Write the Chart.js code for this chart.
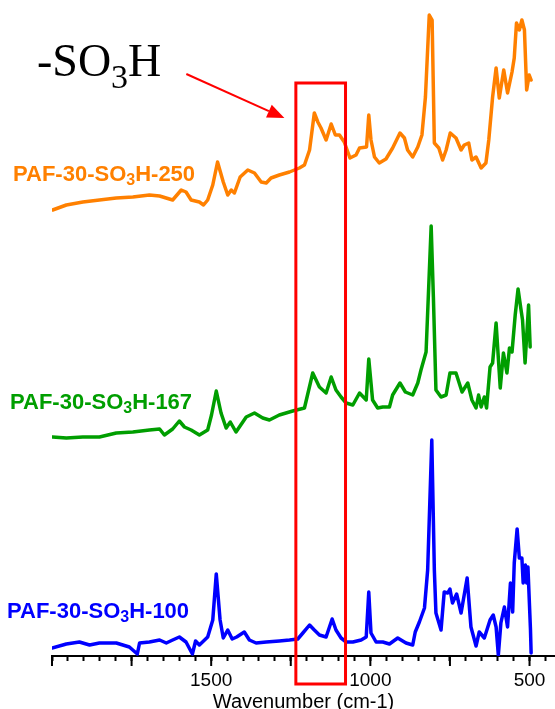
<!DOCTYPE html>
<html>
<head>
<meta charset="utf-8">
<script src="https://cdn.jsdelivr.net/npm/chart.js"></script>
<style>
  html, body { margin: 0; padding: 0; background: #fff; }
</style>
</head>
<body>
<canvas id="irChart" width="555" height="709"></canvas>
<script>
// wavenumber (cm-1) and offset absorbance (a.u.) for each sample
const wn250 = [1998,1955,1903,1851,1798,1746,1694,1662,1621,1594,1579,1563,1537,1524,1511,1495,1480,1462,1448,1437,1427,1409,1385,1364,1343,1327,1312,1286,1254,1223,1207,1191,1176,1165,1155,1139,1123,1110,1097,1082,1064,1045,1034,1012,1005,998,987,972,951,930,907,893,883,867,851,838,827,815,806,799,785,773,762,749,731,715,705,691,681,668,652,637,628,616,605,595,581,569,555,548,541,532,524,516,509,501,495];
const ab250 = [446,451,454,456,458,459,461,460,456,466,464,456,454,451,456,471,494,474,461,466,463,479,486,483,474,473,478,481,484,488,491,506,543,534,528,516,532,521,521,514,498,501,508,509,541,516,499,493,497,508,523,518,506,499,509,521,559,641,636,513,508,496,506,523,518,506,511,513,496,499,488,493,516,559,588,558,586,563,584,598,633,626,636,626,566,581,576];

const wn167 = [1998,1955,1903,1851,1798,1746,1694,1662,1647,1621,1600,1584,1563,1537,1511,1499,1484,1469,1453,1440,1422,1390,1364,1338,1317,1286,1244,1207,1181,1160,1139,1123,1108,1092,1076,1055,1034,1013,1005,993,977,961,940,930,907,890,867,851,841,825,809,802,794,778,762,750,731,712,694,681,668,660,652,642,635,624,616,605,592,582,571,563,555,545,536,528,522,514,503,498];
const ab167 = [219,218,219,219,223,224,226,227,221,227,235,229,226,221,226,241,265,243,228,234,224,239,243,238,236,241,245,248,283,269,263,279,266,259,253,251,263,256,297,256,248,249,249,261,273,264,261,273,286,304,430,359,266,259,261,283,283,264,273,256,248,261,249,259,248,289,293,333,268,303,283,308,304,341,367,349,336,293,351,309];

const wn100 = [2000,1955,1914,1882,1851,1798,1757,1732,1725,1694,1662,1641,1621,1600,1579,1559,1549,1537,1511,1495,1484,1472,1462,1448,1434,1420,1396,1380,1359,1327,1286,1254,1228,1212,1191,1176,1160,1139,1120,1108,1092,1076,1055,1029,1013,1005,998,982,961,940,914,888,867,859,846,830,820,807,799,794,778,768,757,750,742,729,715,696,684,668,658,642,632,624,614,605,598,590,579,569,560,553,548,539,532,524,520,513,509,505,497,495];
const ab100 = [8,12,14,11,13,13,9,2,13,14,16,13,16,19,14,2,15,11,19,36,82,36,18,26,17,19,24,16,13,14,15,16,17,23,31,26,21,19,37,26,18,14,14,16,19,64,23,14,14,12,18,13,11,24,34,48,86,216,86,43,26,64,63,67,53,62,43,78,29,10,24,18,28,36,41,29,1,33,49,29,73,44,93,127,98,98,73,91,73,89,26,3];

const sampleNames = ['PAF-30-SO3H-250', 'PAF-30-SO3H-167', 'PAF-30-SO3H-100'];
const majorLabels = [1500, 1000, 500];
const tickStep = 50;
const majorStep = 250;

// highlighted -SO3H band (cm-1)
const bandRange = [1234, 1078];

const colors = ['#FF8000', '#009E00', '#0000FF'];
const labelPos = [[13, 181], [10, 409], [7, 618]];

const tickValues = [];
for (let v = 2000; v >= 450; v -= tickStep) tickValues.push(v);

function toPoints(xs, ys) {
  return xs.map((x, i) => ({ x: x, y: ys[i] }));
}

// draws text like SO3H with the 3 as subscript
function drawFormula(ctx, text, x, y, font, subFont, drop) {
  const parts = text.split('SO3H');
  const pieces = [[parts[0] + 'SO', false], ['3', true], ['H' + (parts[1] || ''), false]];
  pieces.forEach(([t, sub]) => {
    ctx.font = sub ? subFont : font;
    ctx.fillText(t, x, sub ? y + drop : y);
    x += ctx.measureText(t).width;
  });
}

const extras = {
  id: 'extras',
  afterDraw(chart) {
    const ctx = chart.ctx;
    const xs = chart.scales.x, ys = chart.scales.y;
    const bottom = chart.chartArea.bottom;
    ctx.save();

    // longer major ticks
    ctx.strokeStyle = '#000';
    ctx.lineWidth = 2;
    xs.ticks.forEach(t => {
      if (t.value % majorStep !== 0) return;
      const px = xs.getPixelForValue(t.value);
      ctx.beginPath();
      ctx.moveTo(px, bottom);
      ctx.lineTo(px, bottom + 10);
      ctx.stroke();
    });

    // red box round the SO3H band
    const x1 = xs.getPixelForValue(bandRange[0]);
    const x2 = xs.getPixelForValue(bandRange[1]);
    const y1 = ys.getPixelForValue(573);
    const y2 = ys.getPixelForValue(-28);
    ctx.strokeStyle = '#FF0000';
    ctx.lineWidth = 3;
    ctx.strokeRect(x1, y1, x2 - x1, y2 - y1);

    // arrow
    const ax = xs.getPixelForValue(1578), ay = ys.getPixelForValue(582);
    const bx = xs.getPixelForValue(1270), by = ys.getPixelForValue(538);
    const ang = Math.atan2(by - ay, bx - ax);
    const headLen = 17, headW = 7;
    const hx = bx - headLen * Math.cos(ang), hy = by - headLen * Math.sin(ang);
    ctx.fillStyle = '#FF0000';
    ctx.lineWidth = 2;
    ctx.beginPath();
    ctx.moveTo(ax, ay);
    ctx.lineTo(hx, hy);
    ctx.stroke();
    ctx.beginPath();
    ctx.moveTo(bx, by);
    ctx.lineTo(hx + headW * Math.sin(ang), hy - headW * Math.cos(ang));
    ctx.lineTo(hx - headW * Math.sin(ang), hy + headW * Math.cos(ang));
    ctx.closePath();
    ctx.fill();

    // -SO3H annotation
    ctx.fillStyle = '#000';
    ctx.textBaseline = 'alphabetic';
    ctx.textAlign = 'left';
    drawFormula(ctx, '-SO3H', 37, 76, '46px "Liberation Serif", "Times New Roman", serif',
      '34px "Liberation Serif", "Times New Roman", serif', 12);

    // sample labels
    sampleNames.forEach((name, i) => {
      ctx.fillStyle = colors[i];
      drawFormula(ctx, name, labelPos[i][0], labelPos[i][1],
        'bold 22px "Liberation Sans", Arial, sans-serif',
        'bold 16px "Liberation Sans", Arial, sans-serif', 4);
    });

    ctx.restore();
  }
};

Chart.defaults.font.family = '"Liberation Sans", Arial, sans-serif';

new Chart(document.getElementById('irChart'), {
  type: 'line',
  data: {
    datasets: [
      { label: sampleNames[0], data: toPoints(wn250, ab250), borderColor: colors[0] },
      { label: sampleNames[1], data: toPoints(wn167, ab167), borderColor: colors[1] },
      { label: sampleNames[2], data: toPoints(wn100, ab100), borderColor: colors[2] }
    ]
  },
  options: {
    responsive: false,
    animation: false,
    events: [],
    layout: { padding: { left: 52, right: 0, top: 0, bottom: 0 } },
    elements: {
      point: { radius: 0 },
      line: { borderWidth: 3.5, tension: 0, fill: false, borderJoinStyle: 'round', borderCapStyle: 'round' }
    },
    plugins: {
      legend: { display: false },
      tooltip: { enabled: false }
    },
    scales: {
      x: {
        type: 'linear',
        reverse: true,
        min: 420,
        max: 2000,
        afterBuildTicks: s => { s.ticks = tickValues.map(v => ({ value: v })); },
        afterFit: s => { s.height = 53; },
        grid: { drawOnChartArea: false, tickLength: 5, tickWidth: 2, tickColor: '#000' },
        border: { display: true, color: '#000', width: 2 },
        ticks: {
          autoSkip: false,
          maxRotation: 0,
          padding: 8,
          color: '#000',
          font: { size: 19 },
          callback: v => majorLabels.includes(v) ? String(v) : ''
        },
        title: {
          display: true,
          text: 'Wavenumber (cm-1)',
          color: '#000',
          font: { size: 20, lineHeight: 1 },
          padding: { top: 0, bottom: -3 }
        }
      },
      y: { display: false, min: 0, max: 656 }
    }
  },
  plugins: [extras]
});
</script>
</body>
</html>
